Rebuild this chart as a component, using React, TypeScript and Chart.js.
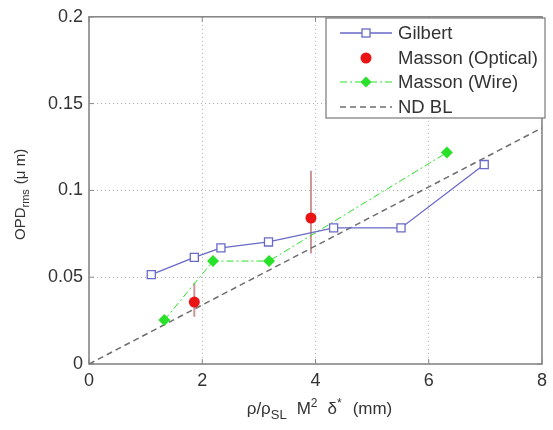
import React, { useEffect, useRef } from "react";
import { Chart, registerables } from "chart.js";

Chart.register(...registerables);

const xTickValues = [0, 2, 4, 6, 8];
const xTickLabels = ["0", "2", "4", "6", "8"];
const yTickValues = [0, 0.05, 0.1, 0.15, 0.2];
const yTickLabels = ["0", "0.05", "0.1", "0.15", "0.2"];

const gilbertX = [1.1, 1.86, 2.33, 3.17, 4.32, 5.51, 6.98];
const gilbertY = [0.0515, 0.0614, 0.0669, 0.0703, 0.0784, 0.0784, 0.1149];
const opticalX = [1.86, 3.92];
const opticalY = [0.0357, 0.0841];
const opticalLow = [0.0272, 0.0637];
const opticalHigh = [0.0467, 0.1113];
const wireX = [1.33, 2.19, 3.18, 6.32];
const wireY = [0.0253, 0.0593, 0.0593, 0.1218];
const ndblX = [0, 8];
const ndblY = [0, 0.136];
const seriesNames = ["Gilbert", "Masson (Optical)", "Masson (Wire)", "ND BL"];

const FONT = "Arial, 'Liberation Sans', Helvetica, sans-serif";
const TEXT = "#333";
const BLUE = "rgb(105,105,200)";
const RED = "rgb(235,20,20)";
const GREEN = "rgb(40,225,40)";
const GRAY = "rgb(110,110,110)";
const ERR = "rgb(205,150,150)";

const pts = (xs: number[], ys: number[]) => xs.map((x, i) => ({ x, y: ys[i] }));

type Part = { t: string; s: number; dy?: number; gap?: number };

function drawParts(ctx: CanvasRenderingContext2D, parts: Part[], cx: number, baseline: number) {
  let total = 0;
  parts.forEach((p) => {
    ctx.font = `${p.s}px ${FONT}`;
    total += (p.gap || 0) + ctx.measureText(p.t).width;
  });
  let x = cx - total / 2;
  ctx.textAlign = "left";
  ctx.textBaseline = "alphabetic";
  parts.forEach((p) => {
    ctx.font = `${p.s}px ${FONT}`;
    x += p.gap || 0;
    ctx.fillText(p.t, x, baseline + (p.dy || 0));
    x += ctx.measureText(p.t).width;
  });
}

const decorPlugin = {
  id: "decor",
  beforeDatasetsDraw(chart: any) {
    const { ctx, chartArea: a, scales } = chart;
    const xs = scales.x;
    const ys = scales.y;
    ctx.save();
    // frame
    ctx.strokeStyle = "rgb(135,135,135)";
    ctx.lineWidth = 1.6;
    ctx.strokeRect(a.left, a.top, a.right - a.left, a.bottom - a.top);
    // inward ticks
    ctx.lineWidth = 1;
    xTickValues.forEach((v) => {
      const px = xs.getPixelForValue(v);
      ctx.beginPath();
      ctx.moveTo(px, a.bottom);
      ctx.lineTo(px, a.bottom - 5);
      ctx.moveTo(px, a.top);
      ctx.lineTo(px, a.top + 5);
      ctx.stroke();
    });
    yTickValues.forEach((v) => {
      const py = ys.getPixelForValue(v);
      ctx.beginPath();
      ctx.moveTo(a.left, py);
      ctx.lineTo(a.left + 5, py);
      ctx.moveTo(a.right, py);
      ctx.lineTo(a.right - 5, py);
      ctx.stroke();
    });
    // error bars
    ctx.strokeStyle = ERR;
    ctx.lineWidth = 2;
    opticalX.forEach((x, i) => {
      const px = xs.getPixelForValue(x);
      ctx.beginPath();
      ctx.moveTo(px, ys.getPixelForValue(opticalLow[i]));
      ctx.lineTo(px, ys.getPixelForValue(opticalHigh[i]));
      ctx.stroke();
    });
    ctx.restore();
  },
  afterDraw(chart: any) {
    const { ctx, chartArea: a } = chart;
    ctx.save();
    ctx.fillStyle = TEXT;
    // x title
    drawParts(
      ctx,
      [
        { t: "ρ/ρ", s: 17 },
        { t: "SL", s: 13, dy: 5 },
        { t: "M", s: 17, gap: 10 },
        { t: "2", s: 12, dy: -7 },
        { t: "δ", s: 17, gap: 10 },
        { t: "*", s: 12, dy: -7 },
        { t: "(mm)", s: 17, gap: 11 },
      ],
      (a.left + a.right) / 2 + 4,
      414
    );
    // y title
    ctx.save();
    ctx.translate(25, (a.top + a.bottom) / 2 + 4);
    ctx.rotate(-Math.PI / 2);
    drawParts(
      ctx,
      [
        { t: "OPD", s: 15 },
        { t: "rms", s: 11, dy: 4 },
        { t: "(μ m)", s: 15, gap: 5 },
      ],
      0,
      0
    );
    ctx.restore();

    // legend
    const lx = 326, ly = 18, lw = 219, lh = 100;
    ctx.fillStyle = "#fff";
    ctx.fillRect(lx, ly, lw, lh);
    ctx.strokeStyle = "rgb(120,120,120)";
    ctx.lineWidth = 1.2;
    ctx.strokeRect(lx, ly, lw, lh);
    const rows = [33, 58, 82, 107];
    const x0 = 340, x1 = 392, xm = 366;
    ctx.font = `18.5px ${FONT}`;
    ctx.textAlign = "left";
    ctx.textBaseline = "middle";
    rows.forEach((ry, i) => {
      ctx.save();
      if (i === 0) {
        ctx.strokeStyle = BLUE;
        ctx.lineWidth = 1.3;
        ctx.beginPath();
        ctx.moveTo(x0, ry);
        ctx.lineTo(x1, ry);
        ctx.stroke();
        ctx.fillStyle = "#fff";
        ctx.fillRect(xm - 4, ry - 4, 8, 8);
        ctx.strokeRect(xm - 4, ry - 4, 8, 8);
      } else if (i === 1) {
        ctx.fillStyle = RED;
        ctx.beginPath();
        ctx.arc(xm, ry, 5.5, 0, Math.PI * 2);
        ctx.fill();
      } else if (i === 2) {
        ctx.strokeStyle = GREEN;
        ctx.lineWidth = 1;
        ctx.setLineDash([7, 3, 2, 3]);
        ctx.beginPath();
        ctx.moveTo(x0, ry);
        ctx.lineTo(x1, ry);
        ctx.stroke();
        ctx.setLineDash([]);
        ctx.fillStyle = GREEN;
        ctx.beginPath();
        ctx.moveTo(xm, ry - 5.5);
        ctx.lineTo(xm + 5.5, ry);
        ctx.lineTo(xm, ry + 5.5);
        ctx.lineTo(xm - 5.5, ry);
        ctx.closePath();
        ctx.fill();
      } else {
        ctx.strokeStyle = GRAY;
        ctx.lineWidth = 1.3;
        ctx.setLineDash([6, 4]);
        ctx.beginPath();
        ctx.moveTo(x0, ry);
        ctx.lineTo(x1, ry);
        ctx.stroke();
      }
      ctx.restore();
      ctx.fillStyle = TEXT;
      ctx.fillText(seriesNames[i], 398, ry + 1);
    });
    ctx.restore();
  },
};

export default function App() {
  const ref = useRef<HTMLCanvasElement | null>(null);
  useEffect(() => {
    document.body.style.margin = "0";
    const canvas = ref.current!;
    const chart = new Chart(canvas, {
      type: "scatter",
      data: {
        datasets: [
          {
            label: seriesNames[3],
            data: pts(ndblX, ndblY),
            showLine: true,
            borderColor: GRAY,
            borderWidth: 1.5,
            borderDash: [6, 4],
            pointRadius: 0,
            order: 4,
          },
          {
            label: seriesNames[2],
            data: pts(wireX, wireY),
            showLine: true,
            borderColor: GREEN,
            borderWidth: 1,
            borderDash: [7, 3, 2, 3],
            pointStyle: "rectRot",
            pointRadius: 6,
            pointBackgroundColor: GREEN,
            pointBorderColor: GREEN,
            pointBorderWidth: 0,
            order: 3,
          },
          {
            label: seriesNames[0],
            data: pts(gilbertX, gilbertY),
            showLine: true,
            borderColor: BLUE,
            borderWidth: 1.3,
            pointStyle: "rect",
            pointRadius: 5.7,
            pointBackgroundColor: "#fff",
            pointBorderColor: BLUE,
            pointBorderWidth: 1.3,
            order: 2,
          },
          {
            label: seriesNames[1],
            data: pts(opticalX, opticalY),
            showLine: false,
            pointStyle: "circle",
            pointRadius: 5.5,
            pointBackgroundColor: RED,
            pointBorderColor: RED,
            pointBorderWidth: 0,
            order: 1,
          },
        ],
      },
      options: {
        responsive: false,
        animation: false,
        devicePixelRatio: 1,
        layout: { padding: { top: 11, right: 2, left: 0, bottom: 0 } },
        plugins: { legend: { display: false }, tooltip: { enabled: false } },
        scales: {
          x: {
            type: "linear",
            min: 0,
            max: 8,
            afterFit: (s: any) => {
              s.height = 66;
            },
            afterBuildTicks: (s: any) => {
              s.ticks = xTickValues.map((v) => ({ value: v }));
            },
            ticks: {
              callback: (v: any) => xTickLabels[xTickValues.indexOf(Number(v))] ?? "",
              font: { family: FONT, size: 18 },
              color: TEXT,
              padding: 6,
              maxRotation: 0,
            },
            grid: {
              drawTicks: false,
              color: "rgb(175,175,175)",
              lineWidth: 1,
            },
            border: { display: false, dash: [1, 3] },
          },
          y: {
            type: "linear",
            min: 0,
            max: 0.2,
            afterFit: (s: any) => {
              s.width = 89;
            },
            afterBuildTicks: (s: any) => {
              s.ticks = yTickValues.map((v) => ({ value: v }));
            },
            ticks: {
              callback: (v: any) => {
                const i = yTickValues.findIndex((t) => Math.abs(t - Number(v)) < 1e-9);
                return i >= 0 ? yTickLabels[i] : "";
              },
              font: { family: FONT, size: 18 },
              color: TEXT,
              padding: 6,
            },
            grid: {
              drawTicks: false,
              color: "rgb(175,175,175)",
              lineWidth: 1,
            },
            border: { display: false, dash: [1, 3] },
          },
        },
      },
      plugins: [decorPlugin],
    });
    return () => chart.destroy();
  }, []);
  return (
    <div style={{ position: "absolute", left: 0, top: 0, width: 553, height: 430, background: "#fff" }}>
      <canvas ref={ref} width={553} height={430} style={{ display: "block" }} />
    </div>
  );
}
